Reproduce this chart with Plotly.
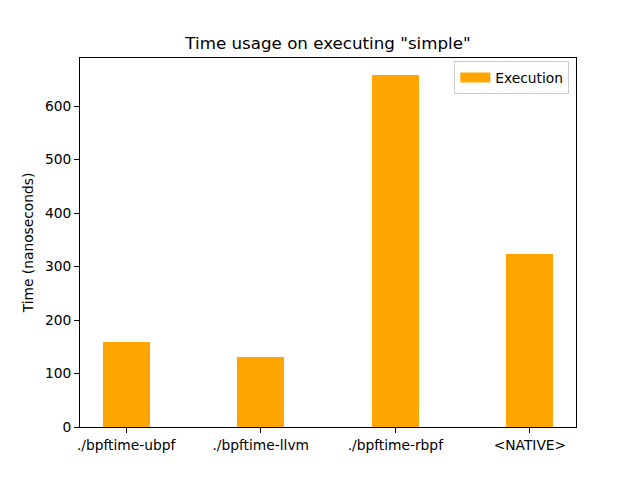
import plotly.graph_objects as go

categories = ["./bpftime-ubpf", "./bpftime-llvm", "./bpftime-rbpf", "<NATIVE>"]
execution = [159, 131, 658, 324]
yticks = [0, 100, 200, 300, 400, 500, 600]

xpos = list(range(len(categories)))
ORANGE = "#FFA500"

fig = go.Figure()
fig.add_trace(go.Bar(
    x=xpos, y=execution, width=0.35, name="Execution",
    marker=dict(color=ORANGE, line=dict(width=0)),
    showlegend=False,
))
# legend-only entry drawn as a wide patch, like matplotlib's
fig.add_trace(go.Scatter(
    x=[None], y=[None], mode="lines", name="Execution",
    line=dict(color=ORANGE, width=10), showlegend=True, hoverinfo="skip",
))

font = dict(family="DejaVu Sans", size=13.8, color="black")
# page body has an 8px default margin; compensate
fig.update_layout(
    width=640, height=480,
    margin=dict(l=72, r=72, t=50, b=61),
    paper_bgcolor="white", plot_bgcolor="white",
    font=font,
    title=dict(text='Time usage on executing "simple"', x=(72 + 248) / 640, xanchor="center",
               y=1 - 35 / 480, yanchor="middle", font=dict(family="DejaVu Sans", size=16.7, color="black")),
    showlegend=True,
    legend=dict(x=0.9865, y=0.992, xanchor="right", yanchor="top",
                bordercolor="#cccccc", borderwidth=1, bgcolor="rgba(255,255,255,0.8)",
                itemwidth=30, tracegroupgap=0,
                font=dict(family="DejaVu Sans", size=13.8, color="black")),
    bargap=0,
)
fig.update_xaxes(
    range=[-0.3425, 3.3425], tickvals=xpos, ticktext=categories,
    showgrid=False, zeroline=False, showline=True, linecolor="black", linewidth=1, mirror=True,
    ticks="outside", ticklen=5, tickcolor="black", tickfont=font,
)
fig.update_yaxes(
    range=[0, 690], tickvals=yticks,
    showgrid=False, zeroline=False, showline=True, linecolor="black", linewidth=1, mirror=True,
    ticks="outside", ticklen=5, tickcolor="black", tickfont=font,
    title=dict(text="Time (nanoseconds)", font=font, standoff=8),
)

fig.write_html("out.html")
